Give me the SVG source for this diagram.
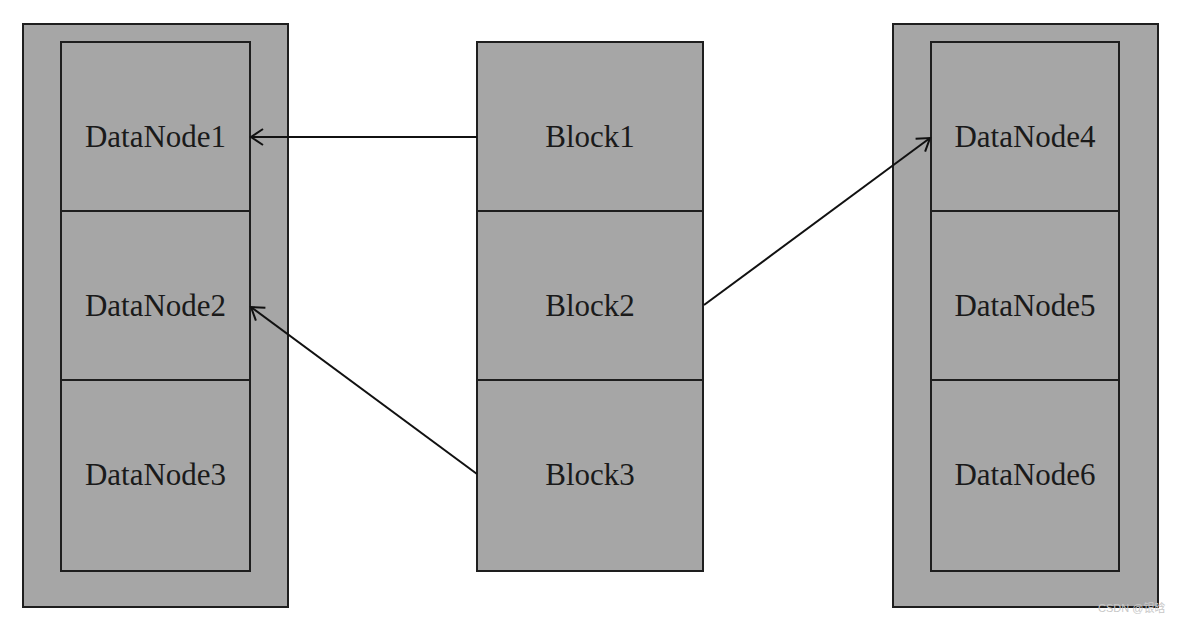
<svg xmlns="http://www.w3.org/2000/svg" width="1182" height="624" viewBox="0 0 1182 624">
<style>
.box{fill:#a6a6a6;stroke:#1e1e1e;stroke-width:2}
.lbl{font-family:"Liberation Serif","Times New Roman",serif;font-size:31px;fill:#1a1a1a;text-anchor:middle;dominant-baseline:central}
.conn{stroke:#111;stroke-width:2;fill:none;marker-end:url(#arr)}
.wm{font-family:"Liberation Sans","Noto Sans CJK SC",sans-serif;font-size:11px;fill:#c8c8c8}
</style>
<defs>
<marker id="arr" viewBox="-14 -10 16 20" refX="0" refY="0" markerWidth="16" markerHeight="20" markerUnits="userSpaceOnUse" orient="auto">
<polyline points="-12,-8 0,0 -12,8" fill="none" stroke="#111" stroke-width="2"/>
</marker>
</defs>
<rect width="1182" height="624" fill="#fff"/>
<g id="left-rack">
<rect class="box" x="23" y="24" width="265" height="583"/>
</g>
<g id="DataNode1"><rect class="box" x="61" y="42" width="189" height="169"/><text class="lbl" x="155.5" y="136">DataNode1</text></g>
<g id="DataNode2"><rect class="box" x="61" y="211" width="189" height="169"/><text class="lbl" x="155.5" y="305">DataNode2</text></g>
<g id="DataNode3"><rect class="box" x="61" y="380" width="189" height="191"/><text class="lbl" x="155.5" y="474">DataNode3</text></g>
<g id="Block1"><rect class="box" x="477" y="42" width="226" height="169"/><text class="lbl" x="590" y="136">Block1</text></g>
<g id="Block2"><rect class="box" x="477" y="211" width="226" height="169"/><text class="lbl" x="590" y="305">Block2</text></g>
<g id="Block3"><rect class="box" x="477" y="380" width="226" height="191"/><text class="lbl" x="590" y="474">Block3</text></g>
<g id="right-rack">
<rect class="box" x="893" y="24" width="265" height="583"/>
</g>
<g id="DataNode4"><rect class="box" x="931" y="42" width="188" height="169"/><text class="lbl" x="1025" y="136">DataNode4</text></g>
<g id="DataNode5"><rect class="box" x="931" y="211" width="188" height="169"/><text class="lbl" x="1025" y="305">DataNode5</text></g>
<g id="DataNode6"><rect class="box" x="931" y="380" width="188" height="191"/><text class="lbl" x="1025" y="474">DataNode6</text></g>
<g id="connectors">
<line class="conn" x1="477" y1="137" x2="251" y2="137"/>
<line class="conn" x1="477" y1="474" x2="251" y2="307"/>
<line class="conn" x1="704" y1="305" x2="930" y2="138"/>
</g>
<text class="wm" x="1098" y="612">CSDN @银晗</text>
</svg>
